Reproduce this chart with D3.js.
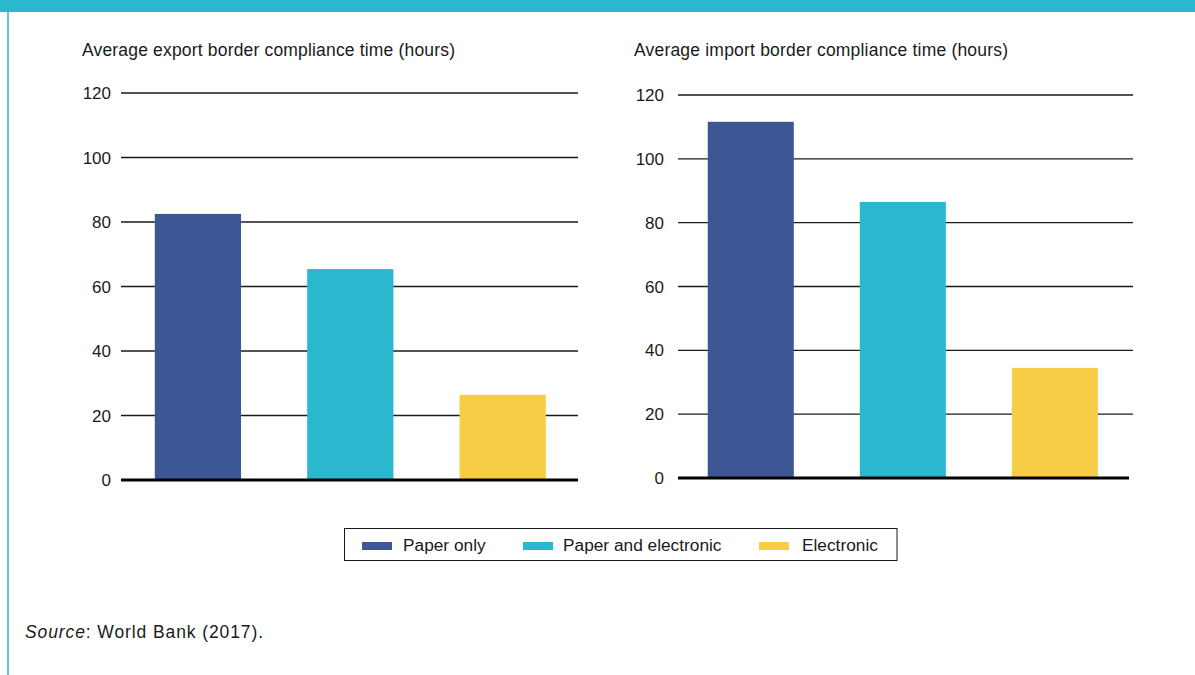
<!DOCTYPE html>
<html><head><meta charset="utf-8">
<script src="https://cdn.jsdelivr.net/npm/d3@7"></script>
<style>
body{margin:0;background:#fff;}
svg{display:block;font-family:"Liberation Sans",Arial,Helvetica,sans-serif;}
</style></head>
<body>
<svg id="chart" width="1195" height="675"></svg>
<script>
const categories = ["Paper only", "Paper and electronic", "Electronic"];
const exportValues = [82.5, 65.4, 26.4];
const importValues = [111.6, 86.5, 34.5];
const yTicks = [0, 20, 40, 60, 80, 100, 120];
const colors = ["#3C5794", "#2BB8CE", "#F6CD44"];
const titles = ["Average export border compliance time (hours)", "Average import border compliance time (hours)"];

const svg = d3.select("#chart");
svg.append("rect").attr("x",0).attr("y",0).attr("width",1195).attr("height",12).attr("fill","#2BB8CE");
svg.append("rect").attr("x",7).attr("y",12).attr("width",2).attr("height",663).attr("fill","#5CC8DA");

const panels = [
  {values: exportValues, title: titles[0], titleX: 82, titleW: 373, gx0: 121, gx1: 578, zx1: 578, bx0: 126, bx1: 581, y0: 480, y120: 93, labelX: 111},
  {values: importValues, title: titles[1], titleX: 634, titleW: 374, gx0: 678, gx1: 1133, zx1: 1129, bx0: 679, bx1: 1133, y0: 478, y120: 95, labelX: 664}
];

panels.forEach(p => {
  const g = svg.append("g");
  const y = d3.scaleLinear().domain([0,120]).range([p.y0, p.y120]);
  const x = d3.scaleBand().domain(categories).range([p.bx0, p.bx1]).paddingInner(0.434).paddingOuter(0.21).align(0.45);
  g.append("text").attr("x", p.titleX).attr("y", 56).attr("font-size", 17.5).attr("fill", "#1a1a1a")
    .attr("textLength", p.titleW).attr("lengthAdjust", "spacing").text(p.title);
  g.selectAll("line.grid").data(yTicks.filter(d => d > 0)).join("line")
    .attr("x1", p.gx0).attr("x2", p.gx1)
    .attr("y1", d => y(d)).attr("y2", d => y(d))
    .attr("stroke", "#1a1a1a").attr("stroke-width", 1.3);
  g.selectAll("text.tick").data(yTicks).join("text")
    .attr("x", p.labelX).attr("y", d => y(d)).attr("dy", "0.36em")
    .attr("text-anchor", "end").attr("font-size", 17).attr("fill", "#1a1a1a")
    .text(d => d);
  g.selectAll("rect.bar").data(p.values).join("rect")
    .attr("x", (d,i) => x(categories[i])).attr("width", x.bandwidth())
    .attr("y", d => y(d)).attr("height", d => y(0) - y(d))
    .attr("fill", (d,i) => colors[i]);
  g.append("line").attr("x1", p.gx0).attr("x2", p.zx1)
    .attr("y1", y(0)).attr("y2", y(0)).attr("stroke", "#000").attr("stroke-width", 3);
});

const lg = svg.append("g");
lg.append("rect").attr("x", 344.5).attr("y", 528.5).attr("width", 552.5).attr("height", 32)
  .attr("fill", "none").attr("stroke", "#1a1a1a").attr("stroke-width", 1);
const legX = [362, 523, 759];
const legTX = [403, 563, 802];
categories.forEach((c,i) => {
  lg.append("rect").attr("x", legX[i]).attr("y", 542).attr("width", 30).attr("height", 8).attr("fill", colors[i]);
  lg.append("text").attr("x", legTX[i]).attr("y", 551).attr("font-size", 17.3).attr("fill", "#1a1a1a").text(c);
});

const src = svg.append("text").attr("x", 25).attr("y", 638).attr("font-size", 17.5).attr("fill", "#1a1a1a")
  .attr("textLength", 238).attr("lengthAdjust", "spacing");
src.append("tspan").attr("font-style", "italic").text("Source");
src.append("tspan").text(": World Bank (2017).");
</script>
</body></html>
